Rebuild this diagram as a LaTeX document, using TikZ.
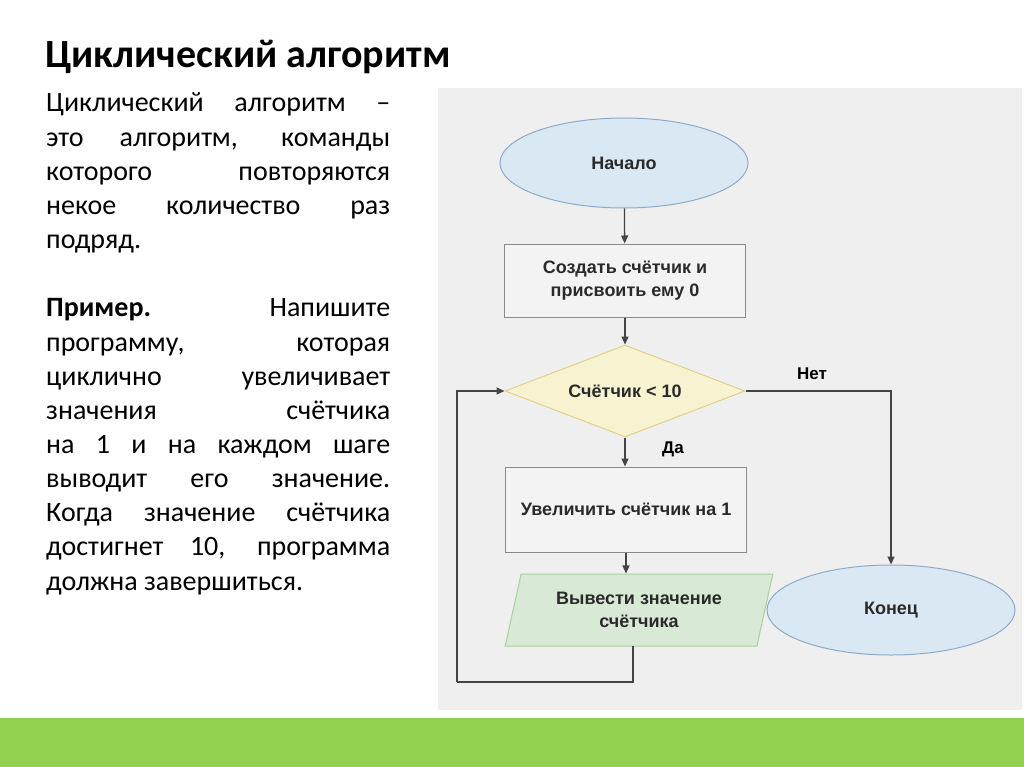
\documentclass[tikz,border=0pt]{standalone}
\usepackage{fontspec}
\setmainfont{Carlito}
\newfontfamily\fcfont{Liberation Sans}
\usetikzlibrary{shapes.geometric,arrows.meta}
\definecolor{panel}{HTML}{EFEFEF}
\definecolor{bargreen}{HTML}{92D050}
\definecolor{termfill}{HTML}{DAE8F3}
\definecolor{termline}{HTML}{8FAAC8}
\definecolor{boxfill}{HTML}{F3F3F3}
\definecolor{boxline}{HTML}{8A8A8A}
\definecolor{decfill}{HTML}{F7F2CF}
\definecolor{decline}{HTML}{E0D08A}
\definecolor{iofill}{HTML}{D8EAD5}
\definecolor{ioline}{HTML}{A8CFA0}
\definecolor{fctext}{HTML}{2A2A2A}
\definecolor{conn}{HTML}{444444}
\newcommand\jline[1]{\makebox[\linewidth][s]{#1}\par}
\newcommand\lline[1]{#1\par}
\tikzset{
  fcfontstyle/.style={font=\fcfont\bfseries\fontsize{18}{23}\selectfont, text=fctext},
  term/.style={ellipse, draw=termline, fill=termfill, line width=1pt, minimum width=248pt, minimum height=90pt, inner sep=0pt, fcfontstyle},
  procbox/.style={rectangle, draw=boxline, fill=boxfill, line width=1pt, minimum width=241pt, inner sep=0pt, align=center, fcfontstyle},
  decision/.style={diamond, aspect=2.6, draw=decline, fill=decfill, line width=1pt, minimum width=240pt, minimum height=92pt, inner sep=0pt, fcfontstyle},
  iobox/.style={trapezium, trapezium left angle=72.5, trapezium right angle=107.5, trapezium stretches=true, draw=ioline, fill=iofill, line width=1pt, minimum width=268pt, minimum height=72pt, inner sep=0pt, align=center, fcfontstyle},
  flow/.style={draw=conn, line width=1.3pt, -{Triangle[length=8pt,width=7pt]}},
  flowline/.style={draw=conn, line width=1.3pt},
  lbl/.style={font=\fcfont\bfseries\fontsize{17}{20}\selectfont, text=black},
}
\begin{document}
\begin{tikzpicture}[x=1pt,y=-1pt]
\useasboundingbox (0,0) rectangle (1024,767);
\fill[white] (0,0) rectangle (1024,767);
\fill[panel] (438,88) rectangle (1022,710);
\fill[bargreen] (0,718) rectangle (1024,767);

\node[anchor=base west, inner sep=0pt, font=\bfseries\fontsize{40}{46}\selectfont] (title) at (45,68) {Циклический алгоритм};

\node[anchor=base west, inner sep=0pt, font=\fontsize{28}{34.15}\selectfont] (body) at (46,112) {\parbox[t]{344pt}{\parindent=0pt
\jline{Циклический алгоритм –}
\jline{это алгоритм, команды}
\jline{которого повторяются}
\jline{некое количество раз}
\lline{подряд.}
\lline{\mbox{}}
\jline{\textbf{Пример.} Напишите}
\jline{программу, которая}
\jline{циклично увеличивает}
\jline{значения счётчика}
\jline{на 1 и на каждом шаге}
\jline{выводит его значение.}
\jline{Когда значение счётчика}
\jline{достигнет 10, программа}
\lline{должна завершиться.}}};

\node[term] (start) at (624,163) {Начало};
\node[procbox, minimum height=73pt] (init) at (625,280.5) {Создать счётчик и\\присвоить ему 0};
\node[decision] (dec) at (625,391) {Счётчик < 10};
\node[procbox, minimum height=85pt] (inc) at (626,509.5) {Увеличить счётчик на 1};
\node[iobox] (out) at (639,610) {Вывести значение\\счётчика};
\node[term] (end) at (891,610) {Конец};

\node[lbl] (no) at (812,374) {Нет};
\node[lbl] (yes) at (673,449) {Да};

\coordinate (outbot) at (633,646);
\coordinate (lb) at (457,682);

\draw[flow] (start) -- (init);
\draw[flow] (init) -- (dec);
\draw[flow] (dec.south) -- (dec.south |- inc.north);
\draw[flow] (inc.south) -- (inc.south |- out.north);
\draw[flow] (dec.east) -| (end.north);
\draw[flowline] (outbot) |- (lb);
\draw[flow] (lb) |- (dec.west);
\end{tikzpicture}
\end{document}
